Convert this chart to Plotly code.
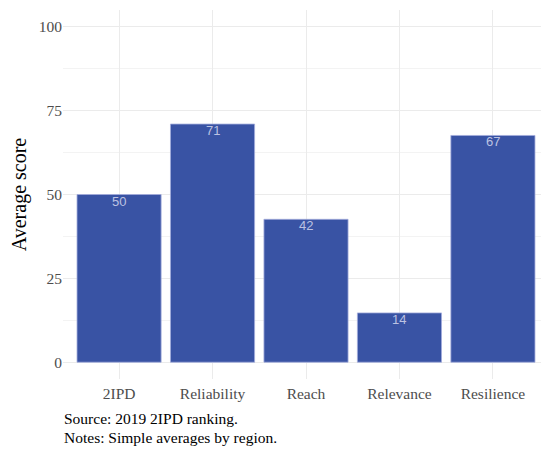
import plotly.graph_objects as go

categories = ["2IPD", "Reliability", "Reach", "Relevance", "Resilience"]
scores = [50.0, 71.0, 42.6, 14.7, 67.6]
score_labels = ["50", "71", "42", "14", "67"]
y_ticks = [0, 25, 50, 75, 100]
caption_lines = ["Source: 2019 2IPD ranking.", "Notes: Simple averages by region."]

SERIF = "Liberation Serif, Times New Roman, serif"

fig = go.Figure(
    go.Bar(
        x=categories,
        y=scores,
        width=0.9,
        marker=dict(color="#3953A4", line=dict(color="#a3acdc", width=0.8)),
        hoverinfo="skip",
    )
)

for cat, val, lab in zip(categories, scores, score_labels):
    fig.add_annotation(
        x=cat,
        y=val,
        text=lab,
        xref="x",
        yref="y",
        xanchor="center",
        yanchor="top",
        yshift=3,
        showarrow=False,
        font=dict(family="Liberation Sans, Arial, sans-serif", size=13, color="#bcc2e2"),
    )

fig.update_layout(
    width=541,
    height=443,
    margin=dict(l=55, r=0, t=2, b=72),
    plot_bgcolor="white",
    paper_bgcolor="white",
    showlegend=False,
    font=dict(family=SERIF, color="#4d4d4d", size=15),
)

fig.update_xaxes(
    range=[-0.6, 4.6],
    showgrid=True,
    gridcolor="#ebebeb",
    gridwidth=1,
    showline=False,
    ticks="",
    ticklabelstandoff=3,
    tickfont=dict(family=SERIF, size=15.5, color="#4d4d4d"),
)

fig.update_yaxes(
    range=[-5, 105],
    tickvals=y_ticks,
    showgrid=True,
    gridcolor="#ebebeb",
    gridwidth=1,
    zeroline=False,
    showline=False,
    ticks="",
    tickfont=dict(family=SERIF, size=15.5, color="#4d4d4d"),
    title=dict(text="Average score", font=dict(family=SERIF, size=20, color="black"), standoff=8),
    minor=dict(dtick=12.5, tick0=0, showgrid=True, gridcolor="#f3f3f3", gridwidth=0.6),
)

for i, line in enumerate(caption_lines):
    fig.add_annotation(
        text=line,
        xref="paper",
        yref="paper",
        x=-0.002,
        y=-0.107 - i * 0.052,
        xanchor="left",
        yanchor="middle",
        showarrow=False,
        font=dict(family=SERIF, size=15.5, color="black"),
    )

fig.write_html("out.html")
